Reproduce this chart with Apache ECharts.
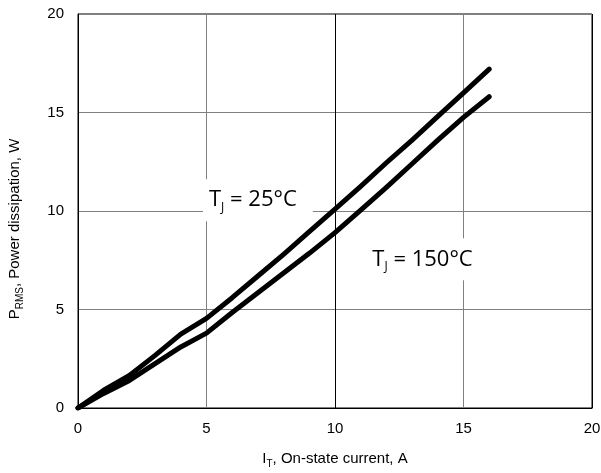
<!DOCTYPE html>
<html>
<head>
<meta charset="utf-8">
<script src="https://cdn.jsdelivr.net/npm/echarts@6/dist/echarts.min.js"></script>
<style>html,body{margin:0;padding:0;background:#fff;}#c{width:601px;height:473px;}</style>
</head>
<body>
<div id="c"></div>
<script>
var currents = [0,1,2,3,4,5,6,7,8,9,10,11,12,13,14,15,16];
var p25 = [0,0.9,1.65,2.67,3.75,4.55,5.6,6.7,7.8,8.95,10.1,11.25,12.45,13.6,14.8,16.0,17.2];
var p150 = [0,0.74,1.4,2.25,3.1,3.8,4.85,5.85,6.85,7.85,8.9,10.05,11.2,12.4,13.6,14.75,15.8];
var xTicks = [0,5,10,15,20];
var yTicks = [0,5,10,15,20];
var label25 = {x: 7.0, y: 10.55, t: '25°C'};
var label150 = {x: 13.6, y: 7.55, t: '150°C'};

function pairs(xs, ys){ return xs.map(function(x,i){return [x, ys[i]];}); }

var labelRich = {
  m: {fontFamily: 'Open Sans', fontSize: 22, color: '#000'},
  s: {fontFamily: 'Open Sans', fontSize: 12, color: '#000', verticalAlign: 'bottom', padding: [0,0,-2,0]}
};
function mp(l){
  return {
    symbol: 'rect', symbolSize: 0, silent: true,
    data: [{coord: [l.x, l.y], value: l.t}],
    label: {
      show: true, position: 'inside',
      formatter: '{m|T}{s|J}{m| = ' + l.t + '}',
      backgroundColor: '#fff', padding: [10, 16, 10, 6],
      rich: labelRich
    }
  };
}
var nameRich = {
  a: {fontFamily: 'Liberation Sans', fontSize: 15, color: '#000'},
  s: {fontFamily: 'Liberation Sans', fontSize: 10, color: '#000', verticalAlign: 'bottom', padding: [0,0,-3,0]}
};

var chart = echarts.init(document.getElementById('c'), null, {renderer: 'canvas'});
chart.setOption({
  animation: false,
  backgroundColor: '#fff',
  grid: {left: 78, right: 9, top: 14, bottom: 65, containLabel: false, outerBoundsMode: 'none',
         show: true, borderColor: '#000', borderWidth: 1, backgroundColor: 'transparent'},
  xAxis: {
    type: 'value', min: 0, max: 20, interval: 5,
    name: '{a|I}{s|T}{a|, On-state current, A}',
    nameLocation: 'middle', nameGap: 43,
    nameTextStyle: {rich: nameRich},
    axisLine: {show: true, lineStyle: {color: '#000', width: 1}},
    axisTick: {show: false},
    axisLabel: {color: '#000', fontFamily: 'Liberation Sans', fontSize: 15, margin: 13,
      formatter: function(v){ return xTicks.indexOf(v) >= 0 ? String(v) : ''; }},
    splitLine: {show: true, lineStyle: {color: ['#000','#808080','#000','#808080','#000'], width: 1}}
  },
  yAxis: {
    type: 'value', min: 0, max: 20, interval: 5,
    name: '{a|P}{s|RMS}{a|, Power dissipation, W}',
    nameLocation: 'middle', nameGap: 56, nameRotate: 90,
    nameTextStyle: {rich: nameRich, padding: [0, 36, 0, 0]},
    axisLine: {show: true, lineStyle: {color: '#000', width: 1}},
    axisTick: {show: false},
    axisLabel: {color: '#000', fontFamily: 'Liberation Sans', fontSize: 15, margin: 14,
      formatter: function(v){ return yTicks.indexOf(v) >= 0 ? String(v) : ''; }},
    splitLine: {show: true, lineStyle: {color: '#808080', width: 1}}
  },
  series: [
    {type: 'line', name: 'TJ = 25°C', data: pairs(currents, p25), showSymbol: false, smooth: false,
     lineStyle: {color: '#000', width: 5, cap: 'round', join: 'round'}, z: 3, markPoint: mp(label25)},
    {type: 'line', name: 'TJ = 150°C', data: pairs(currents, p150), showSymbol: false, smooth: false,
     lineStyle: {color: '#000', width: 5, cap: 'round', join: 'round'}, z: 3, markPoint: mp(label150)}
  ]
});
</script>
</body>
</html>
